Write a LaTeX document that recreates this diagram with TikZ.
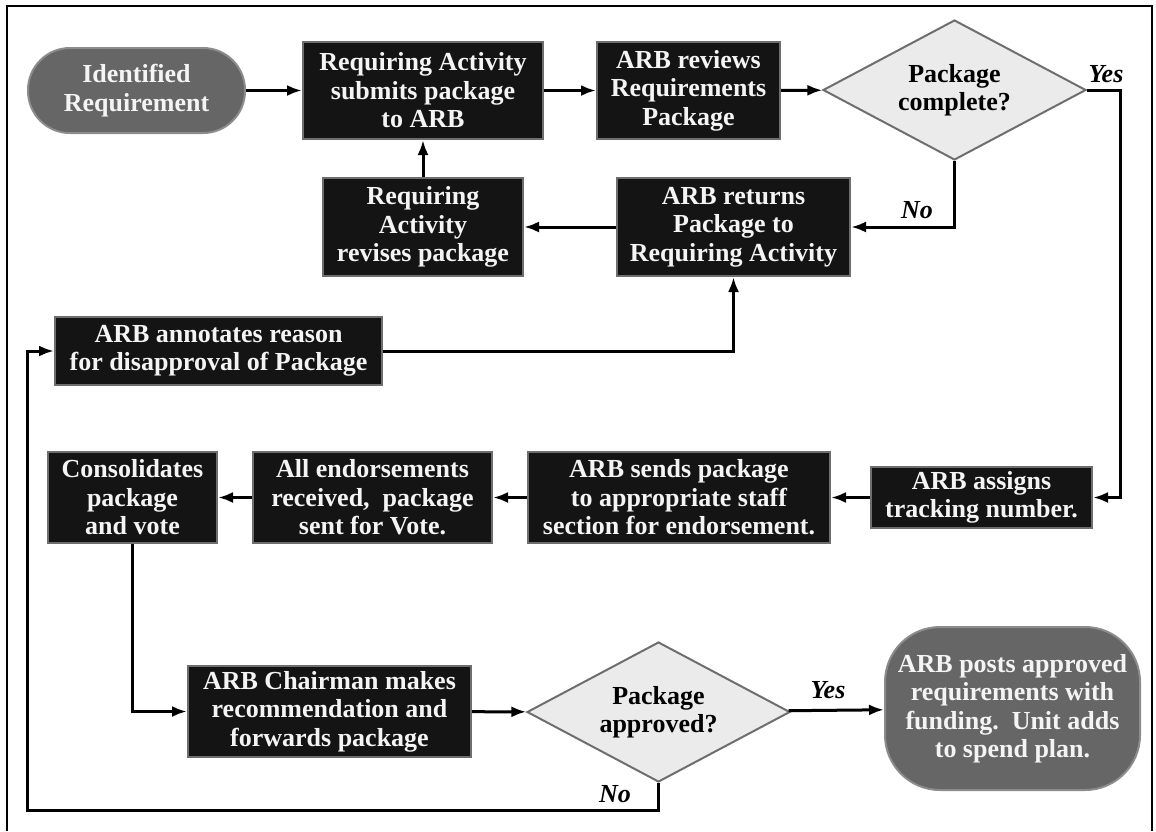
\documentclass[tikz,border=0pt]{standalone}
\usepackage{fontspec}
\setmainfont{Liberation Serif}
\usetikzlibrary{shapes.geometric,arrows.meta}

\definecolor{boxfill}{HTML}{141414}
\definecolor{boxedge}{HTML}{6E6E6E}
\definecolor{boxtext}{HTML}{F4F4F4}
\definecolor{termfill}{HTML}{666666}
\definecolor{termedge}{HTML}{8C8C8C}
\definecolor{decfill}{HTML}{EBEBEB}
\definecolor{decedge}{HTML}{6E6E6E}

\begin{document}
\begin{tikzpicture}[x=1pt,y=-1pt,
  proc/.style={draw=boxedge,line width=2pt,fill=boxfill,text=boxtext,align=center,
    inner sep=0pt,font=\fontsize{26}{28.5}\selectfont\bfseries},
  term/.style={proc,draw=termedge,fill=termfill},
  decide/.style={diamond,draw=decedge,line width=2pt,fill=decfill,align=center,
    inner sep=0pt,shape aspect=1.9,minimum width=263pt,minimum height=140pt,
    font=\fontsize{26}{28.5}\selectfont\bfseries},
  link/.style={line width=3pt,-{Latex[length=15pt,width=11pt]}},
  answer/.style={font=\fontsize{26}{28}\selectfont\bfseries\itshape}]
  \useasboundingbox (0,0) rectangle (1156,831);
  % frame, open at the bottom
  \draw[line width=2.5pt] (7,831) -- (7,6) -- (1152,6) -- (1152,831);

  % top row
  \node[term,rounded corners=42pt,minimum width=217pt,minimum height=85pt] (ident) at (136.5,90.5) {Identified\\Requirement};
  \node[proc,minimum width=240pt,minimum height=97pt] (submit) at (423,90.5) {Requiring Activity\\submits package\\to ARB};
  \node[proc,minimum width=183pt,minimum height=97pt] (review) at (688.5,90.5) {ARB reviews\\Requirements\\Package};
  \node[decide] (complete) at (954.5,90) {Package\\complete?};

  % second row
  \node[proc,minimum width=233pt,minimum height=98pt] (return) at (733.5,227) {ARB returns\\Package to\\Requiring Activity};
  \node[proc,minimum width=200pt,minimum height=98pt] (revise) at (423,227) {Requiring\\Activity\\revises package};
  \node[proc,minimum width=327pt,minimum height=68pt] (annotate) at (218.5,351) {ARB annotates reason\\for disapproval of Package};

  % endorsement row
  \node[proc,minimum width=169pt,minimum height=91pt] (consol) at (132.5,497.5) {Consolidates\\package\\and vote};
  \node[proc,minimum width=239pt,minimum height=91pt] (endorse) at (372.5,497.5) {All endorsements\\received,\ \ package\\sent for Vote.};
  \node[proc,minimum width=302pt,minimum height=91pt] (sends) at (679,497.5) {ARB sends package\\to appropriate staff\\section for endorsement.};
  \node[proc,minimum width=221pt,minimum height=61pt] (assign) at (981.5,497.5) {ARB assigns\\tracking number.};

  % bottom row
  \node[proc,minimum width=283pt,minimum height=91pt] (chair) at (329.5,711.5) {ARB Chairman makes\\recommendation and\\forwards package};
  \node[decide] (approved) at (658.5,712) {Package\\approved?};
  \node[term,rounded corners=55pt,minimum width=255pt,minimum height=163pt] (posts) at (1012.5,708.5) {ARB posts approved\\requirements with\\funding.\ \ Unit adds\\to spend plan.};

  \coordinate (yesturn) at (1120,90);
  \coordinate (noturn) at (27,810);

  \draw[link] (ident) -- (submit);
  \draw[link] (submit) -- (review);
  \draw[link] (review) -- (complete);
  \draw[link] (complete.east) -- (yesturn) |- (assign.east);
  \draw[link] (complete.south) |- (return.east);
  \draw[link] (return) -- (revise);
  \draw[link] (revise) -- (submit);
  \draw[link] (annotate.east) -| (return.south);
  \draw[link] (assign) -- (sends);
  \draw[link] (sends) -- (endorse);
  \draw[link] (endorse) -- (consol);
  \draw[link] (consol.south) |- (chair.west);
  \draw[link] (chair) -- (approved);
  \draw[link] (approved) -- (posts);
  \draw[link] (approved.south) |- (noturn) |- (annotate.west);

  \node[answer] (yes1) at (1106,74) {Yes};
  \node[answer] (no1) at (917,210) {No};
  \node[answer] (yes2) at (828,690) {Yes};
  \node[answer] (no2) at (615,794) {No};
\end{tikzpicture}
\end{document}
